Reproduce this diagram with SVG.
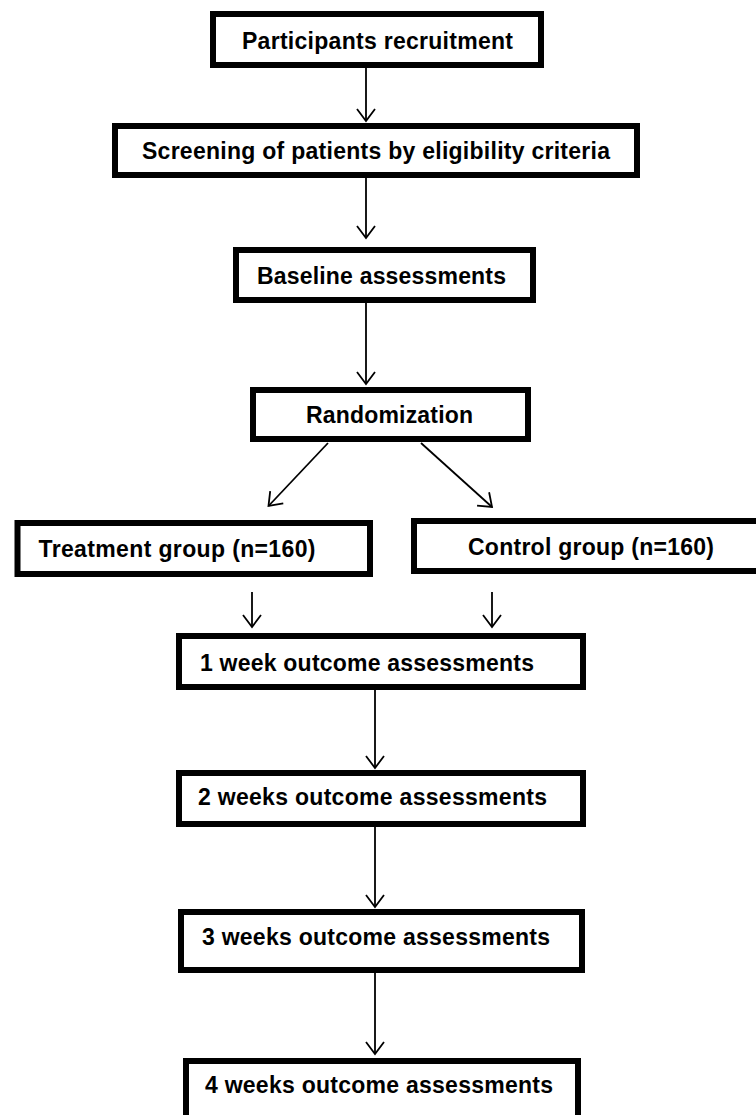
<svg xmlns="http://www.w3.org/2000/svg" width="756" height="1115" viewBox="0 0 756 1115">
<style>
.box{fill:#fff;stroke:#000;stroke-width:6}
.lbl{font-family:"Liberation Sans",Arial,sans-serif;font-weight:bold;font-size:23px;fill:#000;text-anchor:middle}
.con{stroke:#000;stroke-width:1.8;fill:none;marker-end:url(#arr)}
</style>
<defs>
<marker id="arr" markerUnits="userSpaceOnUse" markerWidth="30" markerHeight="30" viewBox="-15 -15 30 30" refX="0" refY="0" orient="auto">
<path d="M-12,-9 L0,0 L-12,9" fill="none" stroke="#000" stroke-width="1.8"/>
</marker>
</defs>
<rect width="756" height="1115" fill="#fff"/>
<g id="connectors">
<line class="con" x1="366" y1="68" x2="366" y2="121"/>
<line class="con" x1="366" y1="178" x2="366" y2="238"/>
<line class="con" x1="366" y1="303" x2="366" y2="384"/>
<line class="con" x1="328" y1="443" x2="268.5" y2="506"/>
<line class="con" x1="421" y1="443" x2="492" y2="507"/>
<line class="con" x1="252" y1="592" x2="252" y2="627"/>
<line class="con" x1="492" y1="592" x2="492" y2="627"/>
<line class="con" x1="375" y1="690" x2="375" y2="768"/>
<line class="con" x1="375" y1="827" x2="375" y2="907"/>
<line class="con" x1="375" y1="973" x2="375" y2="1054"/>
</g>
<g id="n1"><rect class="box" x="213" y="14" width="328" height="51"/><text class="lbl" x="377.5" y="49" textLength="271">Participants recruitment</text></g>
<g id="n2"><rect class="box" x="115" y="126" width="522" height="49"/><text class="lbl" x="376" y="159" textLength="468">Screening of patients by eligibility criteria</text></g>
<g id="n3"><rect class="box" x="236" y="250" width="297" height="50"/><text class="lbl" x="381.5" y="284" textLength="249">Baseline assessments</text></g>
<g id="n4"><rect class="box" x="253" y="390" width="275" height="49"/><text class="lbl" x="389.5" y="423" textLength="167">Randomization</text></g>
<g id="n5"><rect class="box" x="17.5" y="523" width="352.5" height="51"/><text class="lbl" x="177" y="557" textLength="277">Treatment group (n=160)</text></g>
<g id="n6"><rect class="box" x="414" y="521" width="360" height="50"/><text class="lbl" x="591" y="555" textLength="246">Control group (n=160)</text></g>
<g id="n7"><rect class="box" x="179" y="636" width="404" height="51"/><text class="lbl" x="367" y="671" textLength="334">1 week outcome assessments</text></g>
<g id="n8"><rect class="box" x="179" y="773" width="404" height="51"/><text class="lbl" x="372.5" y="805" textLength="349">2 weeks outcome assessments</text></g>
<g id="n9"><rect class="box" x="181" y="912" width="401" height="58"/><text class="lbl" x="376" y="945" textLength="348">3 weeks outcome assessments</text></g>
<g id="n10"><rect class="box" x="186" y="1061" width="392" height="70"/><text class="lbl" x="379" y="1093" textLength="348">4 weeks outcome assessments</text></g>
</svg>
